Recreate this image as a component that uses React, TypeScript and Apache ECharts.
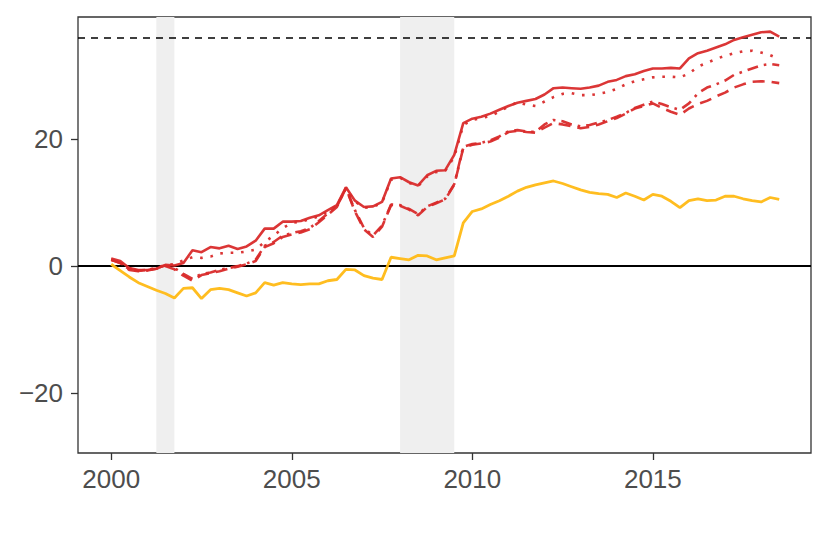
import React, { useEffect, useRef } from "react";
import * as echarts from "echarts";

// Quarterly dates, 2000 Q1 .. 2018 Q3
const quarters: number[] = Array.from({ length: 75 }, (_, i) => 2000 + i * 0.25);

const xTicks = [2000, 2005, 2010, 2015];
const yTicks = [-20, 0, 20];

const yellowSolid = [
  0.3, -0.7, -1.7, -2.6, -3.2, -3.8, -4.3, -5.0, -3.5, -3.4,
  -5.1, -3.7, -3.5, -3.7, -4.2, -4.7, -4.2, -2.6, -3.0, -2.6,
  -2.8, -2.9, -2.8, -2.8, -2.3, -2.1, -0.5, -0.6, -1.5, -1.9,
  -2.1, 1.4, 1.2, 1.0, 1.7, 1.6, 1.0, 1.3, 1.6, 6.8,
  8.6, 9.0, 9.7, 10.3, 11.0, 11.8, 12.4, 12.8, 13.1, 13.4,
  13.0, 12.5, 12.0, 11.6, 11.4, 11.3, 10.8, 11.5, 11.0, 10.4,
  11.3, 11.0, 10.2, 9.2, 10.3, 10.6, 10.3, 10.4, 11.0, 11.0,
  10.6, 10.3, 10.1, 10.8, 10.5,
];

const redSolid = [
  1.2, 0.8, -0.3, -0.6, -0.6, -0.4, 0.2, 0.1, 0.5, 2.5,
  2.2, 3.0, 2.8, 3.2, 2.7, 3.1, 4.0, 5.9, 5.9, 7.0,
  7.0, 7.1, 7.6, 8.0, 8.8, 9.6, 12.4, 10.3, 9.3, 9.4,
  10.1, 13.8, 14.0, 13.2, 12.7, 14.3, 15.0, 15.1, 17.5, 22.5,
  23.2, 23.5, 24.0, 24.6, 25.2, 25.7, 26.0, 26.3, 27.0, 28.0,
  28.1, 28.0, 27.9, 28.1, 28.4, 29.0, 29.3, 29.9, 30.2, 30.7,
  31.1, 31.1, 31.2, 31.1, 32.7, 33.5, 33.9, 34.4, 34.9, 35.6,
  36.0, 36.4, 36.8, 36.9, 36.1,
];

const redDotted = [
  1.0, 0.6, -0.4, -0.7, -0.6, -0.3, 0.2, 0.3, 0.9, 1.4,
  1.3, 1.5, 2.0, 2.1, 2.1, 2.3, 2.6, 3.8, 4.8, 6.0,
  6.8, 7.0, 7.4, 7.8, 8.6, 9.5, 12.2, 10.2, 9.2, 9.3,
  10.0, 13.6, 13.9, 13.1, 12.6, 14.1, 14.8, 15.0, 17.2, 22.2,
  23.0, 23.3, 23.6, 24.3, 25.1, 25.8, 25.4, 25.2, 25.9, 26.6,
  27.1, 27.2, 26.9, 26.9, 27.1, 27.4, 27.9, 28.6, 29.1, 29.4,
  29.7, 29.8, 29.8, 29.7, 30.3, 31.4, 32.0, 32.6, 33.1, 33.5,
  33.8, 33.9, 33.6, 33.2, 32.6,
];

const redDashed = [
  1.0, 0.5, -0.6, -0.8, -0.7, -0.4, 0.0, -0.5, -1.5, -2.3,
  -1.4, -1.1, -0.8, -0.4, -0.1, 0.3, 0.8, 3.0, 3.6, 4.6,
  5.0, 5.3, 5.8, 6.9, 8.1, 9.3, 12.3, 8.6, 5.8, 4.6,
  6.2, 9.6, 9.5, 8.9, 8.0, 9.3, 9.9, 10.5, 12.8, 18.6,
  19.1, 19.3, 19.6, 20.2, 21.1, 21.3, 21.1, 21.0, 21.8, 22.5,
  22.3, 22.0, 21.7, 21.9, 22.3, 22.8, 23.3, 24.0, 24.8, 25.2,
  25.6, 24.9, 24.3, 23.8, 24.8, 25.5, 26.0, 26.7, 27.3, 28.1,
  28.6, 29.0, 29.1, 29.0, 28.8,
];

const redDotDash = [
  1.0, 0.5, -0.5, -0.7, -0.6, -0.3, 0.1, -0.3, -1.2, -2.0,
  -1.2, -1.0, -0.6, -0.3, 0.0, 0.4, 1.0, 3.2, 3.8, 4.8,
  5.2, 5.5, 6.0, 7.1, 8.3, 9.4, 12.3, 8.8, 6.0, 4.8,
  6.4, 9.7, 9.6, 9.0, 8.2, 9.4, 10.0, 10.6, 12.9, 18.8,
  19.2, 19.4, 19.8, 20.4, 21.2, 21.4, 21.2, 21.1, 22.3, 23.0,
  22.8, 22.3, 22.0, 22.2, 22.6, 23.0, 23.5, 24.1, 24.9, 25.4,
  25.9, 25.5, 25.0, 24.6, 25.6, 27.2, 28.1, 28.6, 29.2, 30.1,
  30.6, 31.1, 31.6, 31.8, 31.6,
];

const recessions = [
  [2001.25, 2001.75],
  [2008.0, 2009.5],
];
const referenceLevel = 36;

const RED = "#d92b2b";
const YELLOW = "#ffb914";
const X_MIN = 1999.08;
const X_MAX = 2019.38;
const Y_MIN = -29.4;
const Y_MAX = 39.2;

const fmtY = (v: number) => (v < 0 ? "\u2212" + Math.abs(v) : String(v));
const fmtX = (v: number) => String(Math.round(v));

export default function App() {
  const ref = useRef<HTMLDivElement>(null);
  useEffect(() => {
    document.body.style.margin = "0";
    const chart = echarts.init(ref.current!, null, { renderer: "svg" });
    const pair = (arr: number[]) => quarters.map((q, i) => [q, arr[i]]);
    const lineSeries = (data: number[], color: string, type: any, z: number, width = 2.6) => ({
      type: "line",
      data: pair(data),
      showSymbol: false,
      symbol: "none",
      z,
      silent: true,
      lineStyle: { color, width, type, cap: "butt", opacity: 0.95 },
    });
    const tickStyle = { color: "#333333", width: 1.3 };
    const labelStyle = {
      color: "#4d4d4d",
      fontSize: 26,
      fontFamily: "Liberation Sans, Arial, sans-serif",
    };
    chart.setOption({
      animation: false,
      grid: {
        left: 78,
        right: 19,
        top: 17,
        bottom: 101,
        show: true,
        borderColor: "#333333",
        borderWidth: 1.3,
        backgroundColor: "transparent",
      },
      xAxis: {
        type: "value",
        min: X_MIN,
        max: X_MAX,
        splitLine: { show: false },
        axisLine: { show: false, onZero: false },
        axisTick: { show: true, customValues: xTicks, length: 7, lineStyle: tickStyle },
        axisLabel: { ...labelStyle, customValues: xTicks, margin: 13, formatter: fmtX },
      },
      yAxis: {
        type: "value",
        min: Y_MIN,
        max: Y_MAX,
        splitLine: { show: false },
        axisLine: { show: false, onZero: false },
        axisTick: { show: true, customValues: yTicks, length: 7, lineStyle: tickStyle },
        axisLabel: { ...labelStyle, customValues: yTicks, margin: 15, formatter: fmtY },
      },
      series: [
        {
          ...lineSeries(yellowSolid, YELLOW, "solid", 2, 2.8),
          markArea: {
            silent: true,
            z: 1,
            itemStyle: { color: "#efefef" },
            data: recessions.map(([a, b]) => [
              { xAxis: a, yAxis: Y_MIN },
              { xAxis: b, yAxis: Y_MAX },
            ]),
          },
          markLine: {
            silent: true,
            z: 2,
            symbol: ["none", "none"],
            label: { show: false },
            data: [
              { yAxis: 0, lineStyle: { color: "#000", width: 2, type: "solid" } },
              { yAxis: referenceLevel, lineStyle: { color: "#000", width: 1.6, type: [7, 6] } },
            ],
          },
        },
        lineSeries(redDashed, RED, [12, 7], 3),
        lineSeries(redDotDash, RED, [11, 6, 2.6, 6], 3),
        lineSeries(redDotted, RED, [2.6, 7.8], 3),
        lineSeries(redSolid, RED, "solid", 3),
      ],
    });
    return () => chart.dispose();
  }, []);
  return <div ref={ref} style={{ width: 830, height: 554 }} />;
}
